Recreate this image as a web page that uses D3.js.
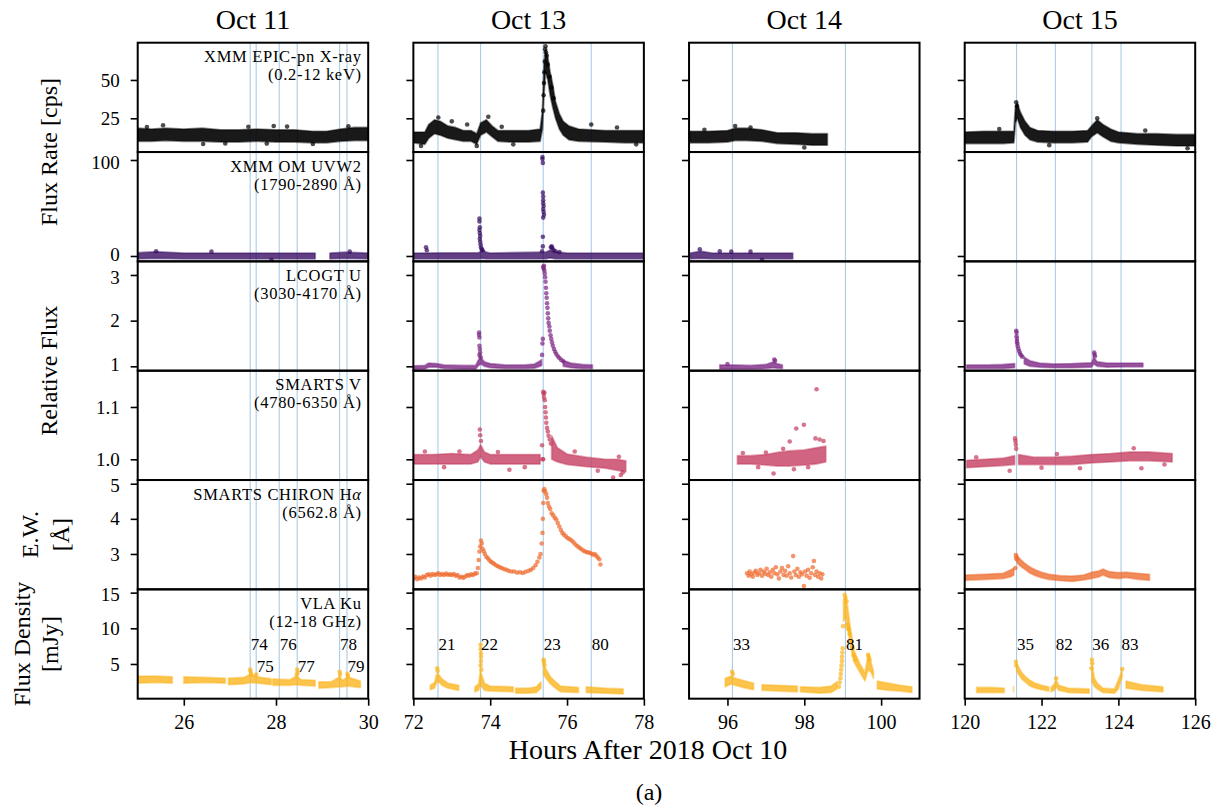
<!DOCTYPE html>
<html>
<head>
<meta charset="utf-8">
<script src="https://cdn.jsdelivr.net/npm/d3@7"></script>
<style>
body { margin: 0; background: #fff; }
text { font-family: "Liberation Serif", "Times New Roman", serif; fill: #000; }
</style>
</head>
<body>
<div id="chart"></div>
<script>
// columns (days) and rows (instruments)
var colNames = ["Oct 11", "Oct 13", "Oct 14", "Oct 15"]
var colDomains = [[25, 30], [72, 78], [95, 101], [120, 126]]
var colTicks = [[26, 28, 30], [72, 74, 76, 78], [96, 98, 100], [120, 122, 124, 126]]

var rowTitles = ["XMM EPIC-pn X-ray", "XMM OM UVW2", "LCOGT U", "SMARTS V", "SMARTS CHIRON H", "VLA Ku"]
var rowBandpass = ["(0.2-12 keV)", "(1790-2890 Å)", "(3030-4170 Å)", "(4780-6350 Å)", "(6562.8 Å)", "(12-18 GHz)"]
var rowDomains = [[3.0, 74.3], [-5.6, 108.3], [0.904, 3.298], [0.9604, 1.1694], [1.993, 5.105], [0.133, 15.46]]
var rowTicks = [[25, 50], [0, 100], [1, 2, 3], [1.0, 1.1], [3, 4, 5], [5, 10, 15]]
var rowColors = ["#000000", "#34095f", "#7b2382", "#c43a5d", "#ee6a2c", "#fbb41a"]

// flare markers
var flareTimes = [27.44, 27.57, 28.07, 28.46, 29.38, 29.54, 72.64, 73.75, 75.38, 76.63, 96.13, 99.07, 121.35, 122.36, 123.31, 124.07]
var flareIds = ["74", "75", "76", "77", "78", "79", "21", "22", "23", "80", "33", "81", "35", "82", "36", "83"]

// bands: [hours, low, high] of the dense point cloud (null = gap); pts: [hours, value]
var xrayBand1 = [[25.0,10,18.5],[25.3,10,18],[25.6,10.5,18.5],[26.0,10,18],[26.4,10,18.5],[26.8,9.5,17.5],[27.2,9.5,17.5],[27.6,10,18],[28.0,9.5,17.5],[28.4,9.5,17.5],[28.8,9,16.5],[29.1,9,16.5],[29.4,10,18],[29.7,10.5,19],[30.0,10.5,19]]
var xrayPts1 = [[25.55,20.5],[27.95,20],[28.24,19.6],[26.42,8.2],[28.8,8.2],[29.57,19.8],[25.2,19.3],[27.4,19.5],[26.9,8.6],[27.8,8.5]]
var xrayBand2 = [[72.0,9,16],[72.15,8.5,16],[72.3,8,16],[72.4,12,21],[72.55,15,24],[72.7,14,23],[72.9,12,20],[73.1,11,19],[73.3,10,17],[73.5,10,17],[73.65,8,15],[73.75,14,22],[73.9,16,24],[74.05,13,20],[74.2,10,17],[74.5,9.5,17],[75.0,9.5,17],[75.3,10,18],[75.36,18,30],[75.4,40,60],[75.44,55,70],[75.5,50,65],[75.56,40,55],[75.62,33,48],[75.7,25,36],[75.8,18,28],[75.9,14,23],[76.05,11,20],[76.3,10,18],[77.0,9.5,17],[77.5,9,17],[78.0,9,17]]
var xrayPts2 = [[72.65,25.5],[73.0,23],[73.4,21],[73.65,7],[73.95,26],[74.3,19.5],[76.63,21],[77.3,19],[72.2,7],[74.6,8],[77.8,8],[75.38,30],[75.39,40],[75.4,48],[75.41,55],[75.42,62],[75.43,70],[75.44,72],[75.45,68],[75.47,66],[75.5,60],[75.55,52],[75.6,45],[75.65,38]]
var xrayBand3 = [[95.02,9,16.5],[95.5,9,16.5],[96.0,9.5,17],[96.2,10.5,18.5],[96.5,10.5,18.5],[96.9,10,17.5],[97.3,8.5,15.5],[97.8,8,15.5],[98.2,7.5,15],[98.6,7.5,15]]
var xrayPts3 = [[96.2,20],[96.6,19],[98.0,6],[95.4,17.5]]
var xrayBand4 = [[120.0,8.5,16],[120.5,8.5,16.5],[121.0,8.5,16.5],[121.28,9,16.5],[121.32,22,33],[121.37,25,35],[121.45,19,29],[121.57,14,23],[121.7,11,19],[121.9,9.5,17],[122.3,9,16.5],[122.8,9,16.5],[123.2,9.5,17],[123.3,13,20],[123.45,15.5,24],[123.6,13,21],[123.8,10,18],[124.0,9,16],[124.5,8,15],[125.0,7.5,15],[125.5,7,14.5],[126.0,7,14.5]]
var xrayPts4 = [[121.34,35.5],[121.36,33],[123.45,25],[125.8,5.5],[124.7,17],[120.9,18],[122.2,7.5]]

var uvw2Band1 = [[25.0,-3,3.5],[25.4,-2.5,4.5],[26.0,-3,3],[27.0,-3,3],[28.0,-3,3],[28.85,-3,3],[28.86,null,null],[29.17,-3,3],[29.5,-2.5,4],[30.0,-3,3]]
var uvw2Pts1 = [[25.4,5],[26.6,4.5],[27.9,-4],[29.6,4.5]]
var uvw2Band2 = [[72.0,-3,3],[73.7,-3,3.5],[73.8,-2.5,6],[73.9,-3,4],[74.0,-3,3],[75.3,-3,4],[75.45,-3,4],[75.55,-2,6],[75.7,-3,4.5],[76.0,-3,3],[78.0,-3,3]]
var uvw2Pts2 = [[72.33,9],[72.35,6],[73.72,39],[73.72,36],[73.73,30],[73.72,27],[73.73,24],[73.74,21],[73.73,18],[73.74,15],[73.75,12],[73.76,9],[73.78,7],[73.8,6],[75.36,103],[75.36,101],[75.37,97],[75.37,66],[75.38,62],[75.38,58],[75.38,55],[75.39,52],[75.38,49],[75.39,46],[75.4,43],[75.38,40],[75.37,20],[75.37,10],[75.35,5],[75.58,9],[75.6,10],[75.62,8],[75.65,6],[75.7,5],[75.8,4]]
var uvw2Band3 = [[95.03,-3,3],[95.3,-2.5,5],[95.6,-3,3],[97.0,-3,3],[97.7,-3,3]]
var uvw2Pts3 = [[95.28,7],[95.8,5],[96.1,4.5],[96.6,4.5],[96.9,-4]]

var uBand2 = [[72.0,0.93,1.01],[72.3,0.94,1.02],[72.4,0.98,1.07],[72.6,0.98,1.06],[72.8,0.95,1.03],[73.3,0.94,1.02],[73.62,0.94,1.02],[73.68,1.0,1.12],[73.75,1.05,1.2],[73.85,1.0,1.1],[74.0,0.97,1.06],[74.4,0.95,1.03],[74.9,0.95,1.03],[75.15,0.96,1.05],[75.3,1.0,1.12],[75.34,1.02,1.15],[75.35,null,null],[75.9,1.0,1.13],[76.1,0.97,1.07],[76.4,0.95,1.04],[76.66,0.95,1.03]]
var uPts2 = [[73.71,1.74],[73.71,1.69],[73.72,1.63],[73.72,1.45],[73.73,1.38],[73.74,1.3],[73.72,1.25],[73.75,1.2],[75.35,1.25],[75.36,1.5],[75.37,1.6],[75.38,3.18],[75.39,3.14],[75.4,3.2],[75.41,3.1],[75.42,3.03],[75.43,2.95],[75.44,2.85],[75.45,2.72],[75.46,2.6],[75.47,2.5],[75.48,2.38],[75.49,2.28],[75.5,2.16],[75.51,2.05],[75.52,1.95],[75.54,1.87],[75.55,1.78],[75.57,1.68],[75.59,1.6],[75.61,1.52],[75.63,1.45],[75.66,1.38],[75.69,1.32],[75.72,1.27],[75.76,1.22],[75.8,1.18],[75.85,1.14],[75.9,1.11]]
var uBand3 = [[95.8,0.94,1.03],[96.2,0.94,1.03],[96.6,0.94,1.02],[97.0,0.95,1.04],[97.2,0.97,1.1],[97.28,0.96,1.06],[97.43,0.95,1.03]]
var uPts3 = [[97.22,1.15],[97.24,1.12],[96.0,1.05]]
var uBand4 = [[120.05,0.95,1.03],[120.6,0.95,1.03],[121.0,0.95,1.04],[121.3,0.97,1.06],[121.33,null,null],[121.55,1.05,1.2],[121.7,1.0,1.12],[121.95,0.98,1.07],[122.3,0.97,1.05],[122.8,0.97,1.06],[123.3,0.98,1.08],[123.36,1.05,1.2],[123.45,1.0,1.1],[123.7,0.98,1.07],[124.2,0.99,1.07],[124.64,0.99,1.07]]
var uPts4 = [[121.34,1.78],[121.35,1.74],[121.35,1.66],[121.36,1.6],[121.36,1.54],[121.37,1.5],[121.38,1.44],[121.4,1.38],[121.42,1.33],[121.44,1.28],[121.47,1.24],[121.5,1.21],[123.37,1.3],[123.38,1.26],[123.39,1.22]]

var vBand2 = [[72.0,0.991,1.009],[72.5,0.991,1.009],[73.0,0.991,1.011],[73.5,0.991,1.009],[73.68,0.995,1.018],[73.75,1.005,1.028],[73.85,0.995,1.014],[74.0,0.991,1.009],[75.3,0.991,1.009],[75.36,null,null],[75.6,1.0,1.045],[75.75,0.995,1.022],[76.0,0.99,1.01],[76.5,0.986,1.004],[77.0,0.983,1.0],[77.3,0.979,1.0],[77.53,0.976,0.997]]
var vPts2 = [[73.73,1.057],[73.74,1.046],[73.76,1.035],[75.35,1.027],[75.38,1.129],[75.39,1.125],[75.4,1.118],[75.41,1.127],[75.42,1.113],[75.43,1.1],[75.44,1.09],[75.45,1.08],[75.46,1.07],[75.48,1.06],[75.5,1.053],[75.52,1.045],[75.55,1.038],[75.58,1.03],[75.38,1.0],[75.36,1.0],[74.5,0.98],[77.4,0.97],[77.2,0.965],[77.35,1.005],[77.45,0.975],[76.8,0.978],[72.3,1.015],[72.8,0.985],[73.2,1.015],[74.2,1.014],[74.9,0.985],[76.2,1.015]]
var vBand3 = [[96.26,0.991,1.007],[96.6,0.991,1.007],[97.0,0.989,1.009],[97.3,0.987,1.013],[97.6,0.987,1.016],[98.0,0.989,1.018],[98.3,0.991,1.022],[98.56,0.995,1.025]]
var vPts3 = [[98.32,1.134],[97.79,1.059],[97.99,1.066],[98.29,1.04],[98.4,1.038],[97.62,1.034],[97.2,0.973],[97.73,0.981],[97.0,1.013],[97.45,1.02],[98.1,0.985],[98.5,1.035],[96.4,1.012],[96.8,0.985]]
var vBand4 = [[120.05,0.984,0.998],[120.5,0.986,1.0],[121.0,0.988,1.002],[121.3,0.99,1.007],[121.32,null,null],[121.4,0.99,1.009],[121.8,0.99,1.004],[122.3,0.99,1.004],[122.8,0.99,1.006],[123.3,0.993,1.009],[123.8,0.995,1.011],[124.3,0.997,1.014],[124.8,0.997,1.014],[125.4,0.995,1.011]]
var vPts4 = [[121.31,1.04],[121.32,1.035],[121.33,1.028],[121.34,1.02],[121.17,0.978],[123.0,0.983],[124.4,1.021],[124.6,0.983],[122.4,1.01],[125.2,0.99],[120.3,1.004],[122.0,0.984]]

var haPts2 = [[72.0,2.3],[72.05,2.35],[72.1,2.28],[72.15,2.33],[72.2,2.3],[72.25,2.36],[72.3,2.33],[72.35,2.4],[72.4,2.42],[72.45,2.38],[72.5,2.43],[72.55,2.4],[72.6,2.42],[72.65,2.45],[72.7,2.4],[72.75,2.43],[72.8,2.4],[72.85,2.44],[72.9,2.41],[72.95,2.42],[73.0,2.4],[73.05,2.43],[73.1,2.38],[73.15,2.4],[73.2,2.33],[73.25,2.35],[73.3,2.32],[73.35,2.36],[73.4,2.4],[73.45,2.38],[73.5,2.42],[73.55,2.4],[73.6,2.44],[73.65,2.45],[73.68,2.6],[73.7,2.83],[73.72,3.07],[73.74,3.21],[73.76,3.38],[73.78,3.3],[73.8,3.15],[73.83,3.08],[73.86,3.0],[73.9,2.92],[73.94,2.88],[73.98,2.82],[74.02,2.78],[74.06,2.75],[74.1,2.72],[74.15,2.68],[74.2,2.65],[74.25,2.62],[74.3,2.6],[74.36,2.57],[74.42,2.55],[74.48,2.52],[74.55,2.5],[74.62,2.5],[74.7,2.47],[74.78,2.48],[74.85,2.46],[74.92,2.49],[75.0,2.52],[75.06,2.55],[75.12,2.6],[75.18,2.68],[75.23,2.78],[75.28,2.9],[75.31,3.0],[75.34,3.3],[75.36,3.6],[75.37,4.0],[75.38,4.45],[75.39,4.8],[75.41,4.85],[75.43,4.78],[75.46,4.7],[75.48,4.6],[75.5,4.45],[75.53,4.35],[75.56,4.28],[75.6,4.16],[75.64,4.1],[75.68,4.03],[75.72,3.98],[75.76,3.88],[75.8,3.78],[75.84,3.68],[75.88,3.6],[75.92,3.55],[75.97,3.5],[76.02,3.45],[76.07,3.42],[76.12,3.38],[76.17,3.33],[76.22,3.27],[76.27,3.22],[76.32,3.18],[76.37,3.14],[76.42,3.1],[76.47,3.07],[76.52,3.05],[76.57,3.04],[76.62,3.02],[76.67,2.98],[76.72,3.0],[76.76,2.95],[76.8,2.9],[76.84,2.85],[76.87,2.7]]
var haPts3 = [[96.51,2.45],[96.55,2.38],[96.58,2.5],[96.62,2.42],[96.66,2.35],[96.7,2.47],[96.74,2.52],[96.78,2.4],[96.82,2.45],[96.86,2.55],[96.9,2.38],[96.94,2.5],[96.98,2.44],[97.02,2.58],[97.06,2.4],[97.1,2.48],[97.14,2.35],[97.18,2.55],[97.22,2.45],[97.26,2.62],[97.3,2.42],[97.34,2.3],[97.38,2.5],[97.42,2.6],[97.46,2.4],[97.5,2.52],[97.54,2.38],[97.58,2.65],[97.62,2.45],[97.66,2.33],[97.71,2.94],[97.74,2.5],[97.78,2.4],[97.82,2.58],[97.86,2.35],[97.9,2.48],[97.94,2.42],[97.99,2.09],[98.02,2.5],[98.06,2.38],[98.1,2.55],[98.14,2.32],[98.18,2.45],[98.22,2.62],[98.25,2.8],[98.28,2.4],[98.32,2.5],[98.36,2.35],[98.4,2.45],[98.44,2.3],[98.47,2.42]]
var haBand4 = [[120.0,2.25,2.4],[120.5,2.27,2.42],[121.0,2.3,2.45],[121.2,2.35,2.55],[121.28,2.4,2.6],[121.3,null,null],[121.36,2.75,2.97],[121.45,2.65,2.85],[121.58,2.55,2.72],[121.7,2.45,2.63],[121.84,2.38,2.55],[122.0,2.32,2.48],[122.2,2.27,2.42],[122.5,2.24,2.38],[122.8,2.22,2.37],[123.1,2.26,2.4],[123.3,2.3,2.48],[123.5,2.35,2.52],[123.6,2.4,2.57],[123.75,2.33,2.5],[124.0,2.3,2.47],[124.2,2.33,2.48],[124.5,2.28,2.45],[124.81,2.25,2.42]]
var haPts4 = [[121.33,2.97],[121.34,2.9],[121.35,2.85],[121.32,2.6]]

var vlaBand1 = [[25.0,2.3,3.3],[25.4,2.4,3.3],[25.75,2.3,3.2],[25.76,null,null],[26.0,2.3,3.2],[26.5,2.4,3.1],[26.9,2.3,3.0],[26.91,null,null],[26.97,2.1,3.0],[27.3,2.2,3.1],[27.45,2.4,3.6],[27.6,2.3,3.2],[27.9,2.1,2.9],[27.91,null,null],[27.93,2.0,2.9],[28.3,2.0,2.8],[28.45,2.1,3.3],[28.55,2.0,2.8],[28.85,1.9,2.7],[28.86,null,null],[28.93,1.6,2.5],[29.2,1.7,2.5],[29.38,1.8,3.2],[29.45,1.8,2.7],[29.55,1.9,3.2],[29.83,1.7,2.6]]
var vlaPts1 = [[27.44,4.2],[27.45,3.9],[27.46,3.6],[28.46,4.2],[28.47,3.8],[28.45,3.5],[29.38,3.9],[29.39,3.5],[29.55,3.6],[29.56,3.3],[27.57,3.5]]
var vlaBand2 = [[72.44,1.4,2.0],[72.55,1.6,2.4],[72.6,2.3,3.5],[72.65,2.5,3.6],[72.75,2.0,2.9],[72.9,1.6,2.3],[73.18,1.3,2.0],[73.19,null,null],[73.6,1.1,1.8],[73.7,1.3,2.2],[73.74,2.0,4.0],[73.78,1.8,3.5],[73.85,1.3,2.3],[74.0,1.2,1.9],[74.6,1.1,1.8],[74.61,null,null],[74.66,0.9,1.6],[75.0,0.9,1.6],[75.2,1.0,1.8],[75.32,1.6,2.5],[75.33,null,null],[75.39,3.5,5.2],[75.45,3.0,4.3],[75.57,2.2,3.2],[75.7,1.6,2.5],[75.83,1.1,1.9],[76.3,1.0,1.7],[76.31,null,null],[76.5,1.0,1.8],[77.0,0.9,1.6],[77.46,0.8,1.5]]
var vlaPts2 = [[72.62,4.4],[72.63,4.0],[73.75,7.7],[73.75,7.1],[73.76,6.5],[73.76,6.0],[73.76,5.4],[73.75,4.8],[73.77,4.2],[75.39,5.6],[75.4,5.3],[75.41,4.9]]
var vlaBand3 = [[95.94,1.8,3.0],[96.1,2.2,3.3],[96.2,2.0,3.0],[96.4,1.7,2.7],[96.68,1.4,2.3],[96.69,null,null],[96.9,1.3,2.1],[97.3,1.2,2.0],[97.82,1.1,1.9],[97.83,null,null],[97.9,1.1,1.8],[98.4,0.9,1.7],[98.7,1.0,1.9],[98.85,1.5,2.5],[98.86,null,null],[99.02,11.0,14.0],[99.08,11.5,14.5],[99.13,10,13],[99.2,7.5,10],[99.3,5.2,6.8],[99.45,3.8,5.0],[99.58,2.6,3.8],[99.66,4.2,6.3],[99.74,3.8,5.2],[99.8,3.0,4.0],[99.81,null,null],[99.9,1.5,2.6],[100.2,1.3,2.3],[100.5,1.2,2.0],[100.8,1.0,1.8]]
var vlaPts3 = [[96.12,3.9],[96.14,3.6],[98.9,1.8],[98.92,2.4],[98.94,3.0],[98.95,3.6],[98.96,4.2],[98.97,4.8],[98.98,5.4],[98.98,6.0],[98.99,6.6],[99.0,7.2],[99.01,10.3],[99.05,14.7],[99.07,14.3],[99.1,13.8],[99.12,10.5],[99.14,10.0],[99.16,9.8],[99.18,9.2],[99.22,8.2],[99.25,7.2],[99.28,6.2],[99.32,5.6],[99.66,6.3],[99.68,6.0],[99.7,5.6]]
var vlaBand4 = [[120.31,1.0,1.7],[120.7,1.0,1.7],[121.03,1.0,1.6],[121.04,null,null],[121.27,1.1,1.8],[121.3,null,null],[121.35,4.0,5.0],[121.42,3.4,4.4],[121.5,2.8,3.7],[121.57,2.5,3.3],[121.7,1.9,2.7],[121.84,1.6,2.3],[122.0,1.4,2.0],[122.19,1.2,1.8],[122.2,null,null],[122.25,1.1,1.7],[122.33,1.3,2.2],[122.38,1.8,2.8],[122.45,1.3,2.0],[122.7,1.0,1.6],[123.24,0.9,1.5],[123.25,null,null],[123.31,2.5,5.0],[123.38,1.8,3.0],[123.45,1.5,2.3],[123.6,1.0,1.6],[123.9,0.9,1.5],[124.0,1.5,2.8],[124.06,2.6,3.6],[124.1,3.2,4.2],[124.11,null,null],[124.2,1.6,2.6],[124.6,1.3,2.1],[125.16,1.1,1.8]]
var vlaPts4 = [[121.33,5.3],[121.34,4.8],[123.31,5.6],[123.32,5.1],[123.3,4.4],[124.1,4.3],[122.38,3.0]]

// [row, col, band, points]
var panelData = [
    [0, 0, xrayBand1, xrayPts1], [0, 1, xrayBand2, xrayPts2], [0, 2, xrayBand3, xrayPts3], [0, 3, xrayBand4, xrayPts4],
    [1, 0, uvw2Band1, uvw2Pts1], [1, 1, uvw2Band2, uvw2Pts2], [1, 2, uvw2Band3, uvw2Pts3],
    [2, 1, uBand2, uPts2], [2, 2, uBand3, uPts3], [2, 3, uBand4, uPts4],
    [3, 1, vBand2, vPts2], [3, 2, vBand3, vPts3], [3, 3, vBand4, vPts4],
    [4, 1, [], haPts2], [4, 2, [], haPts3], [4, 3, haBand4, haPts4],
    [5, 0, vlaBand1, vlaPts1], [5, 1, vlaBand2, vlaPts2], [5, 2, vlaBand3, vlaPts3], [5, 3, vlaBand4, vlaPts4]
]

var width = 1219, height = 810
var left0 = 137.7, colW = 230.5, colStep = 275.67
var top0 = 42.7, rowH = 109.33
var nRows = 6
var bottom = top0 + nRows * rowH

var svg = d3.select("#chart").append("svg").attr("width", width).attr("height", height)

var xScales = colDomains.map(function(dom, c) {
    var x0 = left0 + c * colStep
    return d3.scaleLinear().domain(dom).range([x0, x0 + colW])
})
var yScales = rowDomains.map(function(dom, r) {
    var y0 = top0 + r * rowH
    return d3.scaleLinear().domain(dom).range([y0 + rowH, y0])
})

// clip paths per panel
var defs = svg.append("defs")
colNames.forEach(function(n, c) {
    rowDomains.forEach(function(d, r) {
        defs.append("clipPath").attr("id", "clip" + r + "_" + c)
            .append("rect")
            .attr("x", left0 + c * colStep).attr("y", top0 + r * rowH)
            .attr("width", colW).attr("height", rowH)
    })
})

// flare lines, spanning all rows of a column
var flareG = svg.append("g")
flareTimes.forEach(function(t, i) {
    var c = colDomains.findIndex(function(d) { return t >= d[0] && t <= d[1] })
    var x = xScales[c](t)
    flareG.append("line")
        .attr("x1", x).attr("x2", x).attr("y1", top0).attr("y2", bottom)
        .attr("stroke", "#a9cce6").attr("stroke-width", 1.1)
})

// data
var dataG = svg.append("g")
panelData.forEach(function(p) {
    var r = p[0], c = p[1], band = p[2], pts = p[3]
    var x = xScales[c], y = yScales[r], col = rowColors[r]
    var g = dataG.append("g").attr("clip-path", "url(#clip" + r + "_" + c + ")")
    if (band.length) {
        var area = d3.area()
            .defined(function(d) { return d[1] != null })
            .x(function(d) { return x(d[0]) })
            .y0(function(d) { return y(d[1]) })
            .y1(function(d) { return y(d[2]) })
        g.append("path").datum(band)
            .attr("d", area)
            .attr("fill", col).attr("fill-opacity", r == 0 ? 0.9 : 0.78)
            .attr("stroke", col).attr("stroke-opacity", 0.45)
            .attr("stroke-width", 1.8).attr("stroke-linejoin", "round")
    }
    g.selectAll("circle").data(pts).enter().append("circle")
        .attr("cx", function(d) { return x(d[0]) })
        .attr("cy", function(d) { return y(d[1]) })
        .attr("r", 2.3)
        .attr("fill", col).attr("fill-opacity", 0.7)
})

// axes
colNames.forEach(function(name, c) {
    var x = xScales[c]
    var xAxis = svg.append("g")
        .attr("transform", "translate(0," + bottom + ")")
        .call(d3.axisBottom(x).tickValues(colTicks[c]).tickSize(7).tickPadding(9).tickFormat(d3.format("d")))
    xAxis.select(".domain").remove()
    xAxis.selectAll("line").attr("stroke-width", 1.6)
    xAxis.selectAll("text").style("font-size", "20px").style("font-family", "Liberation Serif, serif")

    rowDomains.forEach(function(d, r) {
        var yAxis = svg.append("g")
            .attr("transform", "translate(" + x.range()[0] + ",0)")
            .call(d3.axisLeft(yScales[r]).tickValues(rowTicks[r]).tickSize(7).tickPadding(11)
                .tickFormat(c == 0 ? (r == 3 ? d3.format(".1f") : d3.format("d")) : ""))
        yAxis.select(".domain").remove()
        yAxis.selectAll("line").attr("stroke-width", 1.6)
        yAxis.selectAll("text").style("font-size", "19px").style("font-family", "Liberation Serif, serif")
        // nudge labels that sit right at a shared panel edge so they don't collide
        yAxis.selectAll(".tick text").attr("y", function(v) {
            var dom = rowDomains[r], span = dom[1] - dom[0]
            if (r < nRows - 1 && (v - dom[0]) / span < 0.06) return -2
            if (r > 0 && (dom[1] - v) / span < 0.15) return 2
            return 0
        })

        svg.append("rect")
            .attr("x", x.range()[0]).attr("y", top0 + r * rowH)
            .attr("width", colW).attr("height", rowH)
            .attr("fill", "none").attr("stroke", "#000").attr("stroke-width", 2)
    })

    svg.append("text")
        .attr("x", x.range()[0] + colW / 2).attr("y", 29)
        .attr("text-anchor", "middle").style("font-size", "28px")
        .text(name)
})

// instrument labels in the first column
var labX = xScales[0].range()[1] - 6.5
rowTitles.forEach(function(t, r) {
    var y0 = top0 + r * rowH
    var t1 = svg.append("text").attr("x", labX).attr("y", y0 + 19.5)
        .attr("text-anchor", "end").style("font-size", "16.5px").style("letter-spacing", "0.7px").text(t)
    if (r == 4) t1.append("tspan").style("font-style", "italic").text("α")
    svg.append("text").attr("x", labX).attr("y", y0 + 37.5)
        .attr("text-anchor", "end").style("font-size", "16.5px").style("letter-spacing", "0.7px").text(rowBandpass[r])
})

// flare ids in the radio row
var lastUpper = {}
flareTimes.forEach(function(t, i) {
    var c = colDomains.findIndex(function(d) { return t >= d[0] && t <= d[1] })
    var x = xScales[c](t)
    var lower = lastUpper[c] != null && x - lastUpper[c] < 22
    if (!lower) lastUpper[c] = x
    svg.append("text")
        .attr("x", x + 0.5).attr("y", top0 + 5 * rowH + (lower ? 83 : 61))
        .style("font-size", "17px").text(flareIds[i])
})

// axis labels
function yLabel(lines, xs, yc) {
    lines.forEach(function(l, i) {
        svg.append("text")
            .attr("transform", "translate(" + xs[i] + "," + yc + ") rotate(-90)")
            .attr("text-anchor", "middle").style("font-size", "24px").text(l)
    })
}
yLabel(["Flux Rate [cps]"], [57], top0 + rowH)
yLabel(["Relative Flux"], [57], top0 + 3 * rowH)
yLabel(["E.W.", "[Å]"], [38, 69], top0 + 4.5 * rowH)
yLabel(["Flux Density", "[mJy]"], [30, 58], top0 + 5.5 * rowH)

svg.append("text").attr("x", 648).attr("y", 759)
    .attr("text-anchor", "middle").style("font-size", "28px")
    .text("Hours After 2018 Oct 10")
svg.append("text").attr("x", 649).attr("y", 800)
    .attr("text-anchor", "middle").style("font-size", "24px")
    .text("(a)")
</script>
</body>
</html>
